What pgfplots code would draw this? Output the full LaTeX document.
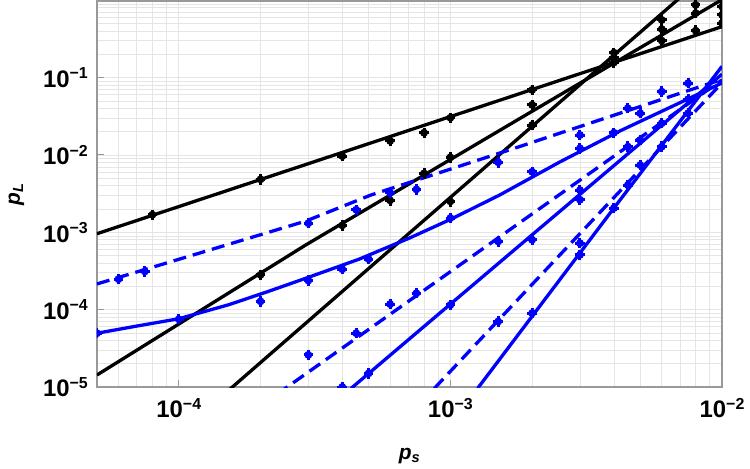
\documentclass[border=0pt]{standalone}
\usepackage{pgfplots}
\pgfplotsset{compat=1.18}
\usepackage{fontspec}
\setmainfont{Liberation Sans}
\definecolor{framegray}{gray}{0.6}
\definecolor{gridgray}{gray}{0.9}
\definecolor{pblue}{rgb}{0,0,1}

% power-of-ten tick label in the text font
\newcommand{\pw}[1]{10\raisebox{8.5bp}{\fontsize{16}{16}\selectfont −#1}}

% data point: filled dot with short error-bar arms
\pgfdeclareplotmark{ebar}{%
  \pgfpathcircle{\pgfpointorigin}{4bp}\pgfusepathqfill
  \pgfsetlinewidth{3bp}%
  \pgfpathmoveto{\pgfpoint{0bp}{-5.2bp}}\pgfpathlineto{\pgfpoint{0bp}{5.2bp}}%
  \pgfpathmoveto{\pgfpoint{-4.8bp}{0bp}}\pgfpathlineto{\pgfpoint{4.8bp}{0bp}}%
  \pgfusepathqstroke}

\begin{document}
\begin{tikzpicture}[x=1bp,y=1bp]
\useasboundingbox (-97,-82) rectangle (653,387);
\begin{axis}[
  at={(0,0)}, anchor=south west,
  scale only axis, width=625bp, height=386bp,
  xmode=log, ymode=log,
  xmin=5e-5, xmax=1e-2, ymin=1e-5, ymax=0.98,
  xtick={1e-4,1e-3,1e-2},
  xticklabels={\pw{4},\pw{3},\pw{2}},
  ytick={1e-5,1e-4,1e-3,1e-2,1e-1},
  yticklabels={\pw{5},\pw{4},\pw{3},\pw{2},\pw{1}},
  minor xtick={5e-5,6e-5,7e-5,8e-5,9e-5,2e-4,3e-4,4e-4,5e-4,6e-4,7e-4,8e-4,9e-4,2e-3,3e-3,4e-3,5e-3,6e-3,7e-3,8e-3,9e-3},
  minor ytick={2e-5,3e-5,4e-5,5e-5,6e-5,7e-5,8e-5,9e-5,2e-4,3e-4,4e-4,5e-4,6e-4,7e-4,8e-4,9e-4,2e-3,3e-3,4e-3,5e-3,6e-3,7e-3,8e-3,9e-3,2e-2,3e-2,4e-2,5e-2,6e-2,7e-2,8e-2,9e-2,0.2,0.3,0.4,0.5,0.6,0.7,0.8,0.9},
  grid=both,
  major grid style={gridgray, line width=0.7bp},
  minor grid style={gridgray, line width=0.7bp},
  tick pos=left,
  major tick length=7bp, minor tick length=0bp,
  tick style={framegray, line width=1bp},
  axis line style={framegray, line width=1.6bp},
  tick label style={font=\fontsize{24}{28}\selectfont\bfseries},
  xticklabel style={anchor=north, inner sep=0pt, yshift=-11bp},
  yticklabel style={anchor=east, inner sep=0pt, xshift=-9bp},
  xlabel={\textit{p}\textsubscript{\textit{s}}},
  ylabel={\textit{p}\textsubscript{\textit{L}}},
  label style={font=\fontsize{21}{24}\selectfont\bfseries},
  xlabel style={at={(axis description cs:0.5,0)}, anchor=base, yshift=-72bp},
  ylabel style={at={(axis description cs:-0.1232,0.5)}, anchor=base},
  clip marker paths=true,
  every axis plot/.append style={line width=3.3bp, line cap=butt, line join=round},
]

% ---------- black family: fitted lines ----------
\addplot[black, no markers] coordinates {(5e-5,9.6e-4) (1e-2,0.457)};
\addplot[black, no markers] coordinates {(5e-5,1.43e-5) (2.94e-4,6.89e-4) (1.72e-3,0.0269) (1e-2,1.02)};
\addplot[black, no markers] coordinates {(1e-4,2.49e-6) (1e-2,3.21)};

% ---------- blue solid family: fitted curves ----------
\addplot[pblue, no markers] coordinates {
  (5e-5,4.96e-5) (7.12e-5,6.20e-5) (1e-4,7.63e-5) (1.529e-4,1.159e-4)
  (2.148e-4,1.733e-4) (2.941e-4,2.553e-4) (4.615e-4,4.50e-4) (7.06e-4,8.41e-4)
  (1.006e-3,1.482e-3) (1.517e-3,3.03e-3) (2.525e-3,8.10e-3) (4.203e-3,0.0204)
  (7.49e-3,0.053) (1e-2,0.0854)};
\addplot[pblue, no markers] coordinates {(4.31e-4,9.6e-6) (1.72e-3,5.93e-4) (1e-2,0.111)};
\addplot[pblue, no markers] coordinates {(1.26e-3,9.6e-6) (4e-3,2.06e-3) (1e-2,0.14)};

% ---------- blue dashed family: fitted curves ----------
\addplot[pblue, no markers, dash pattern=on 13bp off 7bp] coordinates {
  (5e-5,2.15e-4) (2.94e-4,1.4e-3) (5.09e-4,3.03e-3) (1.72e-3,0.0122) (1e-2,0.095)};
\addplot[pblue, no markers, dash pattern=on 13bp off 7bp] coordinates {(2e-4,5.7e-6) (1.72e-3,1.19e-3) (1e-2,0.0935)};
\addplot[pblue, no markers, dash pattern=on 13bp off 7bp] coordinates {(8.73e-4,9.6e-6) (1.72e-3,1.21e-4) (1e-2,0.0857)};

% ---------- black family: simulated points ----------
\addplot[black, only marks, mark=ebar] coordinates {
  (8e-5,1.69e-3) (2e-4,4.84e-3) (4e-4,9.68e-3) (6e-4,0.0152) (8e-4,0.0194)
  (1e-3,0.0303) (2e-3,0.0693) (4e-3,0.157) (6e-3,0.301) (8e-3,0.405) (1e-2,0.506)};
\addplot[black, only marks, mark=ebar] coordinates {
  (2e-4,2.82e-4) (4e-4,1.23e-3) (6e-4,2.59e-3) (8e-4,5.78e-3) (1e-3,9.33e-3)
  (2e-3,0.0444) (4e-3,0.18) (6e-3,0.424) (8e-3,0.682) (1e-2,0.648)};
\addplot[black, only marks, mark=ebar] coordinates {
  (1e-3,2.51e-3) (2e-3,0.0244) (4e-3,0.21) (6e-3,0.558) (8e-3,0.87) (1e-2,0.83)};

% ---------- blue solid family: simulated points ----------
\addplot[pblue, only marks, mark=ebar] coordinates {
  (5e-5,4.96e-5) (1e-4,7.52e-5) (2e-4,1.28e-4) (3e-4,2.38e-4) (4e-4,3.34e-4)
  (5e-4,4.5e-4) (1e-3,1.53e-3) (2e-3,6.07e-3) (3e-3,0.0122) (4e-3,0.0194) (5e-3,0.0346)};
\addplot[pblue, only marks, mark=ebar] coordinates {
  (4e-4,1.0e-5) (5e-4,1.5e-5) (1e-3,1.15e-4) (2e-3,8.0e-4) (3e-3,2.64e-3) (5e-3,0.0156)};
\addplot[pblue, only marks, mark=ebar] coordinates {
  (2e-3,9.0e-5) (3e-3,5.12e-4) (4e-3,2.06e-3) (5e-3,7.4e-3)};

% ---------- blue dashed family: simulated points ----------
\addplot[pblue, only marks, mark=ebar] coordinates {
  (6e-5,2.48e-4) (7.5e-5,3.12e-4) (3e-4,1.31e-3) (4.5e-4,1.96e-3) (6e-4,3.24e-3)
  (7.5e-4,3.59e-3) (1.5e-3,8.04e-3) (3e-3,0.0181) (4.5e-3,0.0402) (6e-3,0.0659) (7.5e-3,0.0847)};
\addplot[pblue, only marks, mark=ebar] coordinates {
  (3e-4,2.6e-5) (4.5e-4,4.96e-5) (6e-4,1.18e-4) (7.5e-4,1.63e-4) (1.5e-3,7.62e-4)
  (3e-3,3.51e-3) (4.5e-3,0.0128) (6e-3,0.0257) (7.5e-3,0.0525)};
\addplot[pblue, only marks, mark=ebar] coordinates {
  (1.5e-3,7.03e-5) (3e-3,7.24e-4) (4.5e-3,4.08e-3) (6e-3,0.0128) (7.5e-3,0.0346)};

\end{axis}
\end{tikzpicture}
\end{document}
